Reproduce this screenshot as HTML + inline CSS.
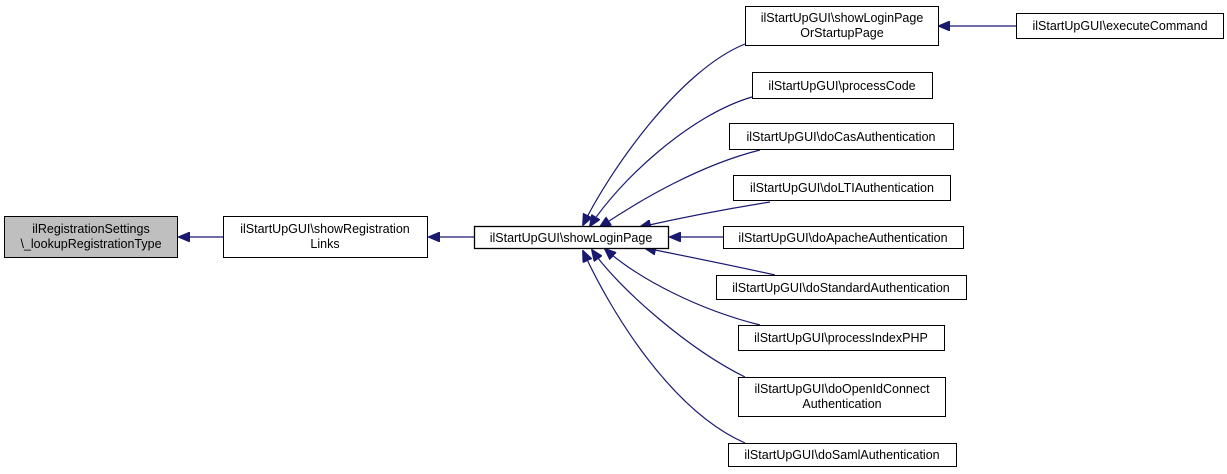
<!DOCTYPE html>
<html><head><meta charset="utf-8"><style>
html,body{margin:0;padding:0;background:#fff;}
svg{display:block;font-family:"Liberation Sans",Arial,sans-serif;font-size:12.5px;}
</style></head><body>
<svg width="1227" height="474" viewBox="0 0 1227 474" xmlns="http://www.w3.org/2000/svg">
<defs><marker id="a" markerWidth="12" markerHeight="10" refX="11" refY="5" orient="auto" markerUnits="userSpaceOnUse"><path d="M0,0 L12,5 L0,10 Z" fill="#191970" stroke="#191970"/></marker></defs>
<g fill="none" stroke="#191970" stroke-width="1.2">
<path d="M223,237 L179,237" marker-end="url(#a)"/>
<path d="M474,237 L429,237" marker-end="url(#a)"/>
<path d="M1016,26 L939,26" marker-end="url(#a)"/>
<path d="M723,237 L670,237" marker-end="url(#a)"/>
<path d="M745,44 C680,70 610,170 583,225" marker-end="url(#a)"/>
<path d="M752,97 C690,115 620,180 590,226" marker-end="url(#a)"/>
<path d="M760,150 C700,165 640,200 600,227" marker-end="url(#a)"/>
<path d="M770,202 C720,210 680,218 640,227" marker-end="url(#a)"/>
<path d="M775,275 C730,265 680,255 645,248" marker-end="url(#a)"/>
<path d="M760,325 C700,310 640,280 605,249" marker-end="url(#a)"/>
<path d="M745,377 C690,350 620,290 592,250" marker-end="url(#a)"/>
<path d="M745,443 C670,410 610,310 583,251" marker-end="url(#a)"/>
</g>
<g stroke="#000" stroke-width="1">
<rect x="4.5" y="216.5" width="173" height="41" fill="#bfbfbf"/>
<rect x="223.5" y="216.5" width="204" height="41" fill="#fff"/>
<rect x="474.5" y="226.5" width="194" height="22" fill="#fff" stroke-width="1.3"/>
<rect x="745.5" y="6.5" width="193" height="39" fill="#fff"/>
<rect x="1016.5" y="13.5" width="207" height="25" fill="#fff"/>
<rect x="752.5" y="72.5" width="180" height="26" fill="#fff"/>
<rect x="729.5" y="123.5" width="224" height="26" fill="#fff"/>
<rect x="733.5" y="175.5" width="217" height="25" fill="#fff"/>
<rect x="723.5" y="226.5" width="240" height="22" fill="#fff"/>
<rect x="716.5" y="275.5" width="250" height="24" fill="#fff"/>
<rect x="738.5" y="325.5" width="206" height="25" fill="#fff"/>
<rect x="738.5" y="377.5" width="207" height="39" fill="#fff"/>
<rect x="728.5" y="443.5" width="228" height="23" fill="#fff"/>
</g>
<g fill="#000" text-anchor="middle">
<text x="91" y="233">ilRegistrationSettings</text>
<text x="91" y="248">\_lookupRegistrationType</text>
<text x="325" y="233">ilStartUpGUI\showRegistration</text>
<text x="325" y="248">Links</text>
<text x="571" y="242">ilStartUpGUI\showLoginPage</text>
<text x="842" y="22">ilStartUpGUI\showLoginPage</text>
<text x="842" y="37">OrStartupPage</text>
<text x="1120" y="30">ilStartUpGUI\executeCommand</text>
<text x="842" y="90">ilStartUpGUI\processCode</text>
<text x="841" y="141">ilStartUpGUI\doCasAuthentication</text>
<text x="842" y="192">ilStartUpGUI\doLTIAuthentication</text>
<text x="843" y="242">ilStartUpGUI\doApacheAuthentication</text>
<text x="841" y="292">ilStartUpGUI\doStandardAuthentication</text>
<text x="841" y="342">ilStartUpGUI\processIndexPHP</text>
<text x="842" y="393">ilStartUpGUI\doOpenIdConnect</text>
<text x="842" y="408">Authentication</text>
<text x="842" y="459">ilStartUpGUI\doSamlAuthentication</text>
</g>
</svg>
</body></html>
